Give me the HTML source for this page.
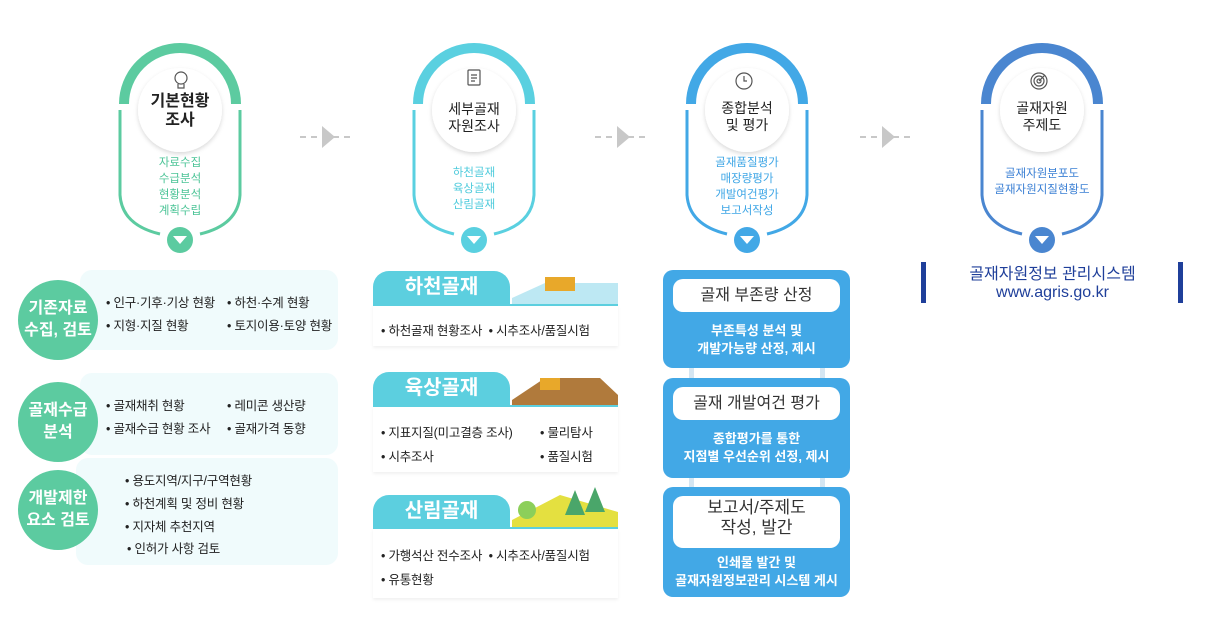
<!DOCTYPE html>
<html><head><meta charset="utf-8">
<style>
body{margin:0;width:1205px;height:625px;background:#fff;position:relative;overflow:hidden;font-family:"Liberation Sans","Noto Sans CJK KR",sans-serif;}
.a{position:absolute;}
.t{position:absolute;text-align:center;line-height:1.2;}
.gc{position:absolute;width:80px;height:80px;border-radius:50%;background:#5ccba0;color:#fff;font-size:16px;font-weight:bold;display:flex;align-items:center;justify-content:center;text-align:center;line-height:1.35;}
.gb{position:absolute;background:#f0fbfc;border-radius:12px;}
.li{position:absolute;font-size:12.5px;color:#222;white-space:nowrap;letter-spacing:-0.2px;}
.tab{position:absolute;left:373px;width:137px;height:33px;background:#5ccfdf;border-radius:16px 16px 0 0;color:#fff;font-size:20px;font-weight:bold;text-align:center;line-height:33px;}
.ul{position:absolute;left:373px;width:245px;height:2px;background:#5ccfdf;}
.row{position:absolute;left:373px;width:245px;background:#fff;box-shadow:0 2px 3px rgba(0,0,0,0.06);}
.bb{position:absolute;left:663px;width:187px;background:#42a8e6;border-radius:10px;}
.wp{position:absolute;left:10px;width:167px;background:#fff;border-radius:10px;text-align:center;color:#333;font-size:16px;line-height:1.15;}
.bt{position:absolute;left:0;width:187px;text-align:center;color:#fff;font-size:13px;font-weight:bold;line-height:1.4;}
</style></head><body>
<svg class="a" style="left:0;top:0" width="1205" height="625">
<defs><filter id="sh" x="-30%" y="-30%" width="160%" height="160%"><feDropShadow dx="0" dy="2" stdDeviation="2" flood-color="#000" flood-opacity="0.15"/></filter></defs>
<g fill="none">
<g stroke="#5ccba0">
<path d="M124 104 A56 56 0 0 1 236 104" stroke-width="10"/>
<path d="M120 110 V195 Q122 225 160 234 M240 110 V195 Q238 225 200 234" stroke-width="3"/>
</g>
<g stroke="#5ad0e0">
<path d="M418 104 A56 56 0 0 1 530 104" stroke-width="10"/>
<path d="M414 110 V195 Q416 225 454 234 M534 110 V195 Q532 225 494 234" stroke-width="3"/>
</g>
<g stroke="#42a8e6">
<path d="M691 104 A56 56 0 0 1 803 104" stroke-width="10"/>
<path d="M687 110 V195 Q689 225 727 234 M807 110 V195 Q805 225 767 234" stroke-width="3"/>
</g>
<g stroke="#4a86d0">
<path d="M986 104 A56 56 0 0 1 1098 104" stroke-width="10"/>
<path d="M982 110 V195 Q984 225 1022 234 M1102 110 V195 Q1100 225 1062 234" stroke-width="3"/>
</g>
</g>
<g fill="#fff" filter="url(#sh)">
<circle cx="180" cy="110" r="42"/><circle cx="474" cy="110" r="42"/><circle cx="747" cy="110" r="42"/><circle cx="1042" cy="110" r="42"/>
</g>
<circle cx="180" cy="240" r="13" fill="#5ccba0"/><path d="M173 236 h14 l-7 8z" fill="#fff"/>
<circle cx="474" cy="240" r="13" fill="#5ad0e0"/><path d="M467 236 h14 l-7 8z" fill="#fff"/>
<circle cx="747" cy="240" r="13" fill="#42a8e6"/><path d="M740 236 h14 l-7 8z" fill="#fff"/>
<circle cx="1042" cy="240" r="13" fill="#4a86d0"/><path d="M1035 236 h14 l-7 8z" fill="#fff"/>
<g fill="none" stroke="#555" stroke-width="1.2">
<circle cx="181" cy="78" r="6"/><path d="M178 84 v4 h6 v-4"/>
<rect x="468" y="70" width="12" height="15" rx="1"/><path d="M471 75h6M471 78h6M471 81h4"/>
<circle cx="744" cy="81" r="8"/><path d="M744 76v5h3"/>
<circle cx="1039" cy="81" r="8"/><circle cx="1039" cy="81" r="5"/><circle cx="1039" cy="81" r="2"/><path d="M1039 81l6-6"/>
</g>
<g stroke="#c8c8c8" stroke-width="2" stroke-dasharray="6 5">
<path d="M300 137 H355"/><path d="M595 137 H650"/><path d="M860 137 H915"/>
</g>
<g fill="#c8c8c8"><path d="M322 126 l13 11 -13 11z"/><path d="M617 126 l13 11 -13 11z"/><path d="M882 126 l13 11 -13 11z"/></g>
<g fill="#d5e6f2"><rect x="689" y="366" width="5" height="14" rx="2"/><rect x="820" y="366" width="5" height="14" rx="2"/><rect x="689" y="476" width="5" height="14" rx="2"/><rect x="820" y="476" width="5" height="14" rx="2"/></g>
<path d="M512 298 L545 283 L618 283 L618 304 L512 304z" fill="#bde8f3"/>
<rect x="545" y="277" width="30" height="14" fill="#e8a82a"/>
<path d="M512 400 L545 378 L600 378 L618 395 L618 406 L512 406z" fill="#b07a3c"/>
<rect x="540" y="378" width="20" height="12" fill="#e8a82a"/>
<path d="M512 520 L560 495 L618 512 L618 528 L512 528z" fill="#e4e040"/>
<g fill="#4aa66a"><path d="M565 515 l10 -25 10 25z"/><path d="M585 512 l10 -25 10 25z"/><circle cx="527" cy="510" r="9" fill="#8ccf5a"/></g>
</svg>

<div class="t" style="left:130px;top:92px;width:100px;font-size:16px;font-weight:bold;color:#222;">기본현황<br>조사</div>
<div class="t" style="left:130px;top:155px;width:100px;font-size:11.5px;color:#4cc497;line-height:1.4;">자료수집<br>수급분석<br>현황분석<br>계획수립</div>
<div class="t" style="left:424px;top:101px;width:100px;font-size:14px;color:#222;">세부골재<br>자원조사</div>
<div class="t" style="left:424px;top:165px;width:100px;font-size:11.5px;color:#4fcbdc;line-height:1.4;">하천골재<br>육상골재<br>산림골재</div>
<div class="t" style="left:697px;top:100px;width:100px;font-size:14px;color:#222;">종합분석<br>및 평가</div>
<div class="t" style="left:687px;top:155px;width:120px;font-size:11.5px;color:#3ea6e6;line-height:1.4;">골재품질평가<br>매장량평가<br>개발여건평가<br>보고서작성</div>
<div class="t" style="left:992px;top:100px;width:100px;font-size:14px;color:#222;">골재자원<br>주제도</div>
<div class="t" style="left:972px;top:166px;width:140px;font-size:11.5px;color:#3a7fd4;line-height:1.4;">골재자원분포도<br>골재자원지질현황도</div>

<div class="gb" style="left:80px;top:270px;width:258px;height:80px;"></div>
<div class="gb" style="left:80px;top:373px;width:258px;height:82px;"></div>
<div class="gb" style="left:76px;top:458px;width:262px;height:107px;"></div>
<div class="gc" style="left:18px;top:280px;">기존자료<br>수집, 검토</div>
<div class="gc" style="left:18px;top:382px;">골재수급<br>분석</div>
<div class="gc" style="left:18px;top:470px;">개발제한<br>요소 검토</div>
<div class="li" style="left:106px;top:292px;">• 인구·기후·기상 현황</div>
<div class="li" style="left:227px;top:292px;">• 하천·수계 현황</div>
<div class="li" style="left:106px;top:315px;">• 지형·지질 현황</div>
<div class="li" style="left:227px;top:315px;">• 토지이용·토양 현황</div>
<div class="li" style="left:106px;top:395px;">• 골재채취 현황</div>
<div class="li" style="left:227px;top:395px;">• 레미콘 생산량</div>
<div class="li" style="left:106px;top:418px;">• 골재수급 현황 조사</div>
<div class="li" style="left:227px;top:418px;">• 골재가격 동향</div>
<div class="li" style="left:125px;top:470px;">• 용도지역/지구/구역현황</div>
<div class="li" style="left:125px;top:493px;">• 하천계획 및 정비 현황</div>
<div class="li" style="left:125px;top:516px;">• 지자체 추천지역</div>
<div class="li" style="left:127px;top:538px;">• 인허가 사항 검토</div>

<div class="row" style="top:304px;height:42px;"></div>
<div class="row" style="top:406px;height:66px;"></div>
<div class="row" style="top:528px;height:70px;"></div>
<div class="tab" style="top:271px;">하천골재</div><div class="ul" style="top:304px;"></div>
<div class="tab" style="top:372px;">육상골재</div><div class="ul" style="top:405px;"></div>
<div class="tab" style="top:495px;">산림골재</div><div class="ul" style="top:527px;"></div>
<div class="li" style="left:381px;top:320px;">• 하천골재 현황조사 &nbsp;• 시추조사/품질시험</div>
<div class="li" style="left:381px;top:422px;">• 지표지질(미고결층 조사)</div>
<div class="li" style="left:540px;top:422px;">• 물리탐사</div>
<div class="li" style="left:381px;top:446px;">• 시추조사</div>
<div class="li" style="left:540px;top:446px;">• 품질시험</div>
<div class="li" style="left:381px;top:545px;">• 가행석산 전수조사 &nbsp;• 시추조사/품질시험</div>
<div class="li" style="left:381px;top:569px;">• 유통현황</div>

<div class="bb" style="top:270px;height:98px;"><div class="wp" style="top:9px;height:33px;line-height:33px;">골재 부존량 산정</div><div class="bt" style="top:52px;">부존특성 분석 및<br>개발가능량 산정, 제시</div></div>
<div class="bb" style="top:378px;height:100px;"><div class="wp" style="top:9px;height:33px;line-height:33px;">골재 개발여건 평가</div><div class="bt" style="top:52px;">종합평가를 통한<br>지점별 우선순위 선정, 제시</div></div>
<div class="bb" style="top:487px;height:110px;"><div class="wp" style="top:9px;height:50px;padding-top:2px;font-size:17px;">보고서/주제도<br>작성, 발간</div><div class="bt" style="top:67px;">인쇄물 발간 및<br>골재자원정보관리 시스템 게시</div></div>

<div class="a" style="left:921px;top:262px;width:5px;height:41px;background:#1f3f9a;"></div>
<div class="a" style="left:1178px;top:262px;width:5px;height:41px;background:#1f3f9a;"></div>
<div class="t" style="left:930px;top:266px;width:245px;font-size:16px;color:#1f3f9a;line-height:1.1;">골재자원정보 관리시스템<br>www.agris.go.kr</div>
</body></html>
